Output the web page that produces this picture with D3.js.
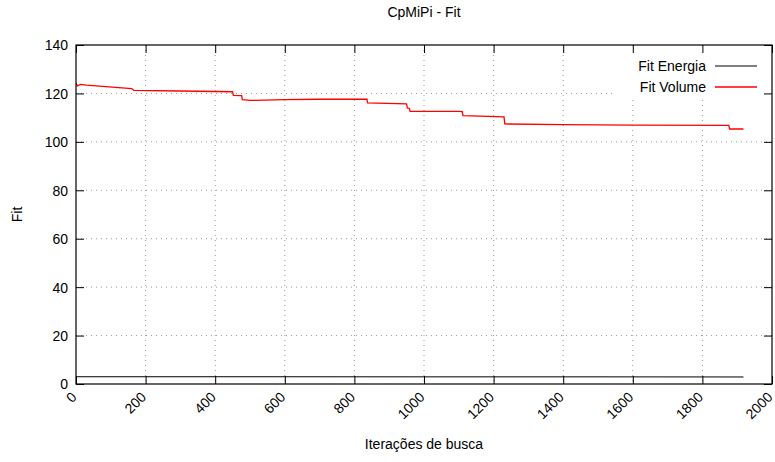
<!DOCTYPE html>
<html>
<head>
<meta charset="utf-8">
<script src="https://cdn.jsdelivr.net/npm/d3@7"></script>
<style>
  html, body { margin: 0; padding: 0; background: #fff; }
  svg { display: block; font-family: "Liberation Sans", Arial, Helvetica, sans-serif; }
</style>
</head>
<body>
<svg id="chart" width="775" height="462"></svg>
<script>
// ---- data ----
const title = "CpMiPi - Fit";
const xLabel = "Iterações de busca";
const yLabel = "Fit";
const xTicks = [0, 200, 400, 600, 800, 1000, 1200, 1400, 1600, 1800, 2000];
const yTicks = [0, 20, 40, 60, 80, 100, 120, 140];
const seriesNames = ["Fit Energia", "Fit Volume"];
const seriesColors = ["#000000", "#ff0000"];

const energiaIter = [0, 500, 1000, 1500, 1918];
const energiaFit  = [3.0, 3.0, 2.95, 2.95, 2.9];

const volumeIter = [0, 4, 13, 30, 160, 166, 300, 450, 452, 476, 478, 500, 600, 700, 836, 838, 950, 952, 958, 960, 1100, 1110, 1112, 1230, 1232, 1400, 1600, 1876, 1878, 1918];
const volumeFit  = [124.2, 123.1, 123.75, 123.4, 122.0, 121.3, 121.0, 120.7, 119.2, 119.1, 117.4, 117.1, 117.4, 117.6, 117.6, 116.1, 115.7, 114.0, 113.8, 112.6, 112.6, 112.5, 110.8, 110.3, 107.4, 107.1, 106.9, 106.8, 105.3, 105.3];

// ---- layout ----
const svg = d3.select("#chart");
const L = 76, R = 772, T = 45, B = 384;
const x = d3.scaleLinear().domain([0, 2000]).range([L, R]);
const y = d3.scaleLinear().domain([0, 140]).range([B, T]);
const tickLen = 8;
const gridColor = "#999";

// grid
const grid = svg.append("g");
grid.selectAll(".gx").data(xTicks.filter(d => d > 0 && d < 2000)).enter().append("line")
  .attr("x1", d => x(d)).attr("x2", d => x(d)).attr("y1", T).attr("y2", B)
  .attr("stroke", gridColor).attr("stroke-width", 1).attr("stroke-dasharray", "1,4");
grid.selectAll(".gy").data(yTicks.filter(d => d > 0 && d < 140)).enter().append("line")
  .attr("x1", L).attr("x2", R).attr("y1", d => y(d)).attr("y2", d => y(d))
  .attr("stroke", gridColor).attr("stroke-width", 1).attr("stroke-dasharray", "1,4");

// legend background (covers grid)
const legendX = 706, legendY0 = 66, legendDY = 21;
svg.append("rect").attr("x", 612).attr("y", T + 1).attr("width", R - 613).attr("height", 52).attr("fill", "#fff");

// axes via d3
const axB = svg.append("g").attr("transform", `translate(0,${B})`)
  .call(d3.axisBottom(x).tickValues(xTicks).tickSize(-tickLen).tickFormat(d3.format("d")));
const axT = svg.append("g").attr("transform", `translate(0,${T})`)
  .call(d3.axisTop(x).tickValues(xTicks).tickSize(-tickLen).tickFormat(""));
const axL = svg.append("g").attr("transform", `translate(${L},0)`)
  .call(d3.axisLeft(y).tickValues(yTicks).tickSize(-tickLen).tickFormat(d3.format("d")));
const axR = svg.append("g").attr("transform", `translate(${R},0)`)
  .call(d3.axisRight(y).tickValues(yTicks).tickSize(-tickLen).tickFormat(""));
[axB, axT, axL, axR].forEach(a => {
  a.select(".domain").remove();
  a.selectAll(".tick line").attr("stroke", "#000").attr("stroke-width", 1);
});
axL.selectAll(".tick text").attr("x", -8).attr("dy", "0.35em")
  .attr("font-size", 14).attr("fill", "#000").attr("font-family", "Liberation Sans, Arial, sans-serif");
axB.selectAll(".tick text")
  .attr("y", 0).attr("dy", 0)
  .attr("text-anchor", "end")
  .attr("transform", "translate(1,14) rotate(-45)")
  .attr("font-size", 14).attr("fill", "#000").attr("font-family", "Liberation Sans, Arial, sans-serif");

// lines
const lineGen = d3.line().x(d => x(d[0])).y(d => y(d[1]));
const energia = energiaIter.map((v, i) => [v, energiaFit[i]]);
const volume = volumeIter.map((v, i) => [v, volumeFit[i]]);
svg.append("path").datum(energia).attr("d", lineGen)
  .attr("fill", "none").attr("stroke", seriesColors[0]).attr("stroke-width", 1);
svg.append("path").datum(volume).attr("d", lineGen)
  .attr("fill", "none").attr("stroke", seriesColors[1]).attr("stroke-width", 1.3);

// border
svg.append("rect").attr("x", L).attr("y", T).attr("width", R - L).attr("height", B - T)
  .attr("fill", "none").attr("stroke", "#000").attr("stroke-width", 1.2);

// legend
seriesNames.forEach((n, i) => {
  const yy = legendY0 + i * legendDY;
  svg.append("text").attr("x", legendX).attr("y", yy).attr("dy", "0.35em")
    .attr("text-anchor", "end").attr("font-size", 14).attr("fill", "#000").text(n);
  svg.append("line").attr("x1", 715).attr("x2", 757).attr("y1", yy).attr("y2", yy)
    .attr("stroke", seriesColors[i]).attr("stroke-width", i === 1 ? 1.3 : 1);
});

// titles
svg.append("text").attr("x", (L + R) / 2).attr("y", 17).attr("text-anchor", "middle")
  .attr("font-size", 14).attr("fill", "#000").text(title);
svg.append("text").attr("x", (L + R) / 2).attr("y", 449).attr("text-anchor", "middle")
  .attr("font-size", 14).attr("fill", "#000").text(xLabel);
svg.append("text").attr("transform", `translate(22,${(T + B) / 2}) rotate(-90)`)
  .attr("text-anchor", "middle").attr("font-size", 14).attr("fill", "#000").text(yLabel);
</script>
</body>
</html>
